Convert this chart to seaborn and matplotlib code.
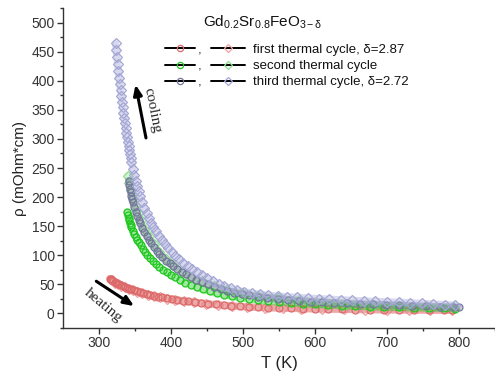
import numpy as np
import pandas as pd
import seaborn as sns
import matplotlib
matplotlib.use("Agg")
import matplotlib.pyplot as plt
from matplotlib.lines import Line2D

# ---------------- data ----------------
T_red_c = [315, 316, 317, 318, 320, 322, 324, 326, 328, 330, 333, 336, 339, 342, 345, 349, 353, 357, 361, 366,
           371, 376, 382, 388, 394, 401, 408, 416, 424, 433, 442, 452, 462, 473, 484, 496, 508, 521, 535, 550,
           566, 583, 600, 618, 637, 656, 676, 696, 716, 737, 758, 779, 790]
rho_red_c = [60, 59, 58, 57, 55.5, 54, 52.5, 51, 49.8, 48.6, 47, 45.5, 44, 42.6, 41.2, 39.6, 38, 36.6, 35.2, 33.6,
             32, 30.6, 29, 27.6, 26.2, 24.8, 23.5, 22, 20.7, 19.3, 18, 16.7, 15.5, 14.3, 13.2, 12.2, 11.3, 10.5, 9.8, 9.2,
             8.7, 8.2, 7.8, 7.4, 7.0, 6.7, 6.4, 6.1, 5.9, 5.7, 5.5, 5.3, 5.2]

T_red_d = [318, 322, 326, 331, 336, 341, 347, 353, 360, 368, 376, 385, 395, 406, 418, 432, 448, 465, 485, 505,
           530, 555, 580, 610, 640, 670, 700, 730, 760, 790]
rho_red_d = [57, 53, 50, 47, 45, 42, 39.5, 37, 34.5, 32, 30, 27.5, 25.5, 23, 21, 19, 16.5, 14.5, 12.5, 11,
             10, 9, 8.3, 7.6, 7.1, 6.6, 6.2, 5.9, 5.6, 5.3]

T_grn_c = [339, 340, 341, 342, 343, 344, 345, 347, 349, 351, 353, 355, 358, 361, 364, 367, 371, 375, 379, 384,
           389, 394, 400, 406, 413, 420, 428, 436, 445, 454, 464, 474, 485, 496, 508, 521, 535, 550, 566, 583,
           600, 618, 637, 656, 676, 696, 716, 737, 758, 779, 795]
rho_grn_c = [174, 169, 164, 160, 156, 152, 148, 142, 137, 132, 127, 123, 117, 111, 106, 101, 95, 90, 85, 80,
             75, 71, 66, 62, 57, 53, 49, 45, 41.5, 38, 35, 32, 29.5, 27, 25, 23, 21.2, 19.5, 18, 16.6,
             15.4, 14.3, 13.3, 12.4, 11.6, 10.9, 10.3, 9.7, 9.2, 8.7, 8.4]

T_grn_d = [340, 342, 344, 347, 350, 354, 358, 363, 369, 376, 384, 393, 403, 415, 428, 443, 460, 478, 498, 521,
           548, 578, 610, 644, 680, 716, 754, 792]
rho_grn_d = [237, 225, 213, 198, 186, 172, 160, 146, 133, 119, 106, 94, 83, 72, 63, 55, 47, 40, 35, 30,
             26, 22.5, 19.5, 17, 15, 13.5, 12, 10.5]

T_blu_c = [341, 342, 343, 344, 345, 346, 347, 349, 351, 353, 355, 357, 360, 363, 366, 369, 372, 376, 380, 384,
           388, 393, 398, 403, 409, 415, 421, 428, 435, 443, 451, 460, 469, 478, 488, 498, 509, 521, 534, 548,
           563, 578, 594, 610, 627, 644, 662, 680, 698, 716, 735, 754, 773, 792, 800]
rho_blu_c = [228, 221, 214, 208, 202, 197, 192, 183, 175, 168, 161, 155, 147, 140, 133, 127, 121, 114, 108, 102,
             97, 91, 86, 81, 76, 71, 67, 62, 58, 54, 50, 46, 42, 39, 36, 33.5, 31, 29, 27, 25,
             23.5, 22, 20.5, 19.3, 18.2, 17.2, 16.3, 15.5, 14.7, 14, 13.2, 12.4, 11.6, 10.8, 10.5]

T_blu_d = [323, 324, 325, 326, 327, 328, 329, 330, 331, 332, 333, 334, 335, 336, 337, 338, 339, 340, 341, 342,
           343, 344, 345, 347, 349, 351, 353, 355, 357, 360, 363, 366, 369, 372, 375, 379, 383, 387, 391, 396,
           401, 406, 411, 417, 423, 429, 436, 443, 450, 458, 466, 474, 483, 492, 501, 512, 523, 535, 548, 561,
           575, 590, 605, 620, 636, 652, 668, 684, 700, 716, 732, 748, 764, 780, 795]
rho_blu_d = [464, 452, 440, 428, 417, 405, 395, 384, 374, 364, 354, 345, 336, 327, 319, 311, 303, 295, 288, 281,
             274, 267, 261, 249, 238, 228, 219, 210, 202, 191, 181, 172, 164, 156, 149, 141, 133, 126, 119, 112,
             105, 99, 93, 87, 81, 76, 71, 66, 61, 56, 51, 47, 43, 40, 37.5, 35, 33, 31.5, 30, 28.8,
             27.7, 26.5, 25.5, 24.5, 23.5, 22.5, 21.6, 20.8, 20, 19.3, 18.3, 17.2, 16.2, 15.2, 14.3]

legend_labels = ["first thermal cycle, δ=2.87", "second thermal cycle", "third thermal cycle, δ=2.72"]
title_text = r"Gd$_{\mathrm{0.2}}$Sr$_{\mathrm{0.8}}$FeO$_{\mathrm{3-δ}}$"

# ---------------- style ----------------
sns.set_style("ticks")
plt.rcParams["font.family"] = ["Liberation Sans", "DejaVu Sans"]
plt.rcParams["mathtext.fontset"] = "custom"
plt.rcParams["mathtext.rm"] = "Liberation Sans"
plt.rcParams["mathtext.it"] = "Liberation Sans:italic"

col_red_c, col_red_d = "#dd6a6a", "#eea3a3"
col_grn_c, col_grn_d = "#1ec81e", "#8ee08e"
col_blu_c, col_blu_d = "#74769c", "#a4a6d6"

fig = plt.figure(figsize=(4.95, 3.79), dpi=100)
ax = fig.add_axes([63 / 495, 1 - 328 / 379, 432 / 495, 320 / 379])

def draw(T, rho, col, marker, ms):
    df = pd.DataFrame({"T": T, "rho": rho})
    sns.lineplot(data=df, x="T", y="rho", ax=ax, color=col, lw=5.2, alpha=0.42,
                 solid_capstyle="round", estimator=None, sort=False)
    sns.lineplot(data=df, x="T", y="rho", ax=ax, color=col, lw=0, marker=marker, ms=ms,
                 mfc="none", mec=col, mew=0.9, estimator=None, sort=False)

draw(T_red_d, rho_red_d, col_red_d, "D", 4.6)
draw(T_red_c, rho_red_c, col_red_c, "o", 5)
draw(T_grn_d, rho_grn_d, col_grn_d, "D", 4.6)
draw(T_grn_c, rho_grn_c, col_grn_c, "o", 5)
draw(T_blu_c, rho_blu_c, col_blu_c, "o", 5)
draw(T_blu_d, rho_blu_d, col_blu_d, "D", 4.6)

# ---------------- axes ----------------
ax.set_xlim(250, 850)
ax.set_ylim(-25, 525)
ax.set_xticks([300, 400, 500, 600, 700, 800])
ax.set_xticks([350, 450, 550, 650, 750, 850], minor=True)
ax.set_yticks(list(range(0, 501, 50)))
ax.set_yticks(list(range(-25, 526, 50)), minor=True)
ax.tick_params(axis="both", which="major", direction="out", length=4, width=1, labelsize=10,
               labelcolor="#333333", color="#333333", pad=2)
ax.tick_params(axis="both", which="minor", direction="out", length=2.5, width=1, color="#333333")
for s in ["top", "right"]:
    ax.spines[s].set_visible(False)
for s in ["left", "bottom"]:
    ax.spines[s].set_color("#333333")
    ax.spines[s].set_linewidth(1.0)
ax.set_xlabel("T (K)", fontsize=12, color="#222222", labelpad=4)
ax.set_ylabel("ρ (mOhm*cm)", fontsize=11, color="#222222", labelpad=3)

# ---------------- legend ----------------
fs = 9.5
h_circ = [Line2D([], [], color="black", lw=1.4, marker="o", ms=4.5, mfc="none", mec=c, mew=0.9)
          for c in (col_red_c, col_grn_c, col_blu_c)]
h_diam = [Line2D([], [], color="black", lw=1.4, marker="D", ms=4.2, mfc="none", mec=c, mew=0.9)
          for c in (col_red_d, col_grn_d, col_blu_d)]
leg1 = ax.legend(h_circ, [",", ",", ","], loc="upper left", bbox_to_anchor=((165 - 63) / 432, 0.888),
                 frameon=False, fontsize=fs, handlelength=2.3, handletextpad=0.15, labelspacing=0.3,
                 borderpad=0, borderaxespad=0)
ax.add_artist(leg1)
ax.legend(h_diam, legend_labels, loc="upper left", bbox_to_anchor=((211 - 63) / 432, 0.888),
          frameon=False, fontsize=fs, handlelength=2.6, handletextpad=0.6, labelspacing=0.3,
          borderpad=0, borderaxespad=0, labelcolor="#111111")
ax.text((203 - 63) / 432, 0.956, title_text, transform=ax.transAxes, fontsize=11,
        ha="left", va="center", color="#111111")

# ---------------- annotations ----------------
ax.annotate("", xy=(350, 398), xytext=(366, 297),
            arrowprops=dict(arrowstyle="-|>,head_length=0.6,head_width=0.25", color="black", lw=2.2))
ax.text(374, 350, "cooling", rotation=-79, fontsize=11, family="Liberation Serif",
        ha="center", va="center", rotation_mode="anchor")
ax.annotate("", xy=(352, 10), xytext=(293, 58),
            arrowprops=dict(arrowstyle="-|>,head_length=0.6,head_width=0.25", color="black", lw=2.2))
ax.text(306, 13, "heating", rotation=-40, fontsize=11, family="Liberation Serif",
        ha="center", va="center", rotation_mode="anchor")

fig.savefig("out.png", dpi=100)
